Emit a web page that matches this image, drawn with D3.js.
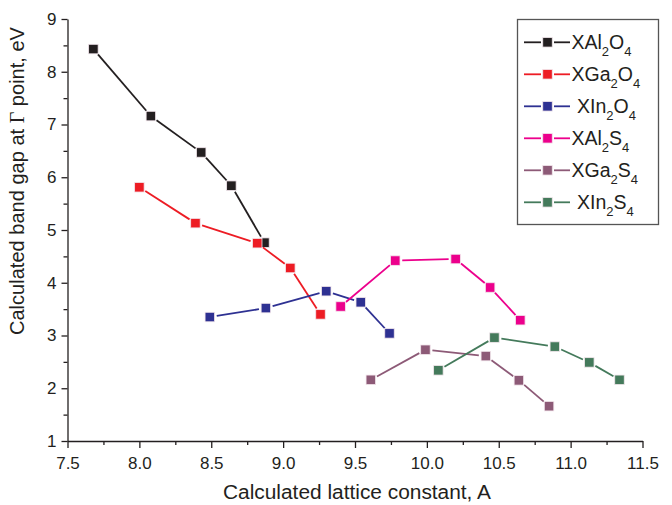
<!DOCTYPE html>
<html>
<head>
<meta charset="utf-8">
<script src="https://cdn.jsdelivr.net/npm/d3@7/dist/d3.min.js"></script>
<style>
  html, body { margin: 0; padding: 0; background: #fff; }
  svg { display: block; font-family: "Liberation Sans", Arial, sans-serif; }
</style>
</head>
<body>
<svg id="chart" width="672" height="505"></svg>
<script>
// Band gap at the Gamma point vs. lattice constant for spinel families
const seriesNames = ["XAl2O4", "XGa2O4", "XIn2O4", "XAl2S4", "XGa2S4", "XIn2S4"];
const seriesColors = ["#231f20", "#ed1c24", "#2e3192", "#ec008c", "#8d5a77", "#447a5b"];

const latticeAl2O4 = [7.68, 8.08, 8.43, 8.64, 8.87];
const gapAl2O4     = [8.43, 7.16, 6.47, 5.84, 4.76];

const latticeGa2O4 = [8.00, 8.39, 8.82, 9.05, 9.26];
const gapGa2O4     = [5.81, 5.13, 4.75, 4.28, 3.40];

const latticeIn2O4 = [8.49, 8.88, 9.30, 9.54, 9.74];
const gapIn2O4     = [3.35, 3.52, 3.84, 3.63, 3.04];

const latticeAl2S4 = [9.40, 9.78, 10.20, 10.44, 10.65];
const gapAl2S4     = [3.55, 4.42, 4.45, 3.91, 3.29];

const latticeGa2S4 = [9.61, 9.99, 10.41, 10.64, 10.85];
const gapGa2S4     = [2.16, 2.73, 2.61, 2.15, 1.66];

const latticeIn2S4 = [10.08, 10.47, 10.89, 11.13, 11.34];
const gapIn2S4     = [2.34, 2.96, 2.79, 2.49, 2.16];

const xTicks = [7.5, 8.0, 8.5, 9.0, 9.5, 10.0, 10.5, 11.0, 11.5];
const yTicks = [1, 2, 3, 4, 5, 6, 7, 8, 9];

const seriesX = [latticeAl2O4, latticeGa2O4, latticeIn2O4, latticeAl2S4, latticeGa2S4, latticeIn2S4];
const seriesY = [gapAl2O4, gapGa2O4, gapIn2O4, gapAl2S4, gapGa2S4, gapIn2S4];

const svg = d3.select("#chart");
const x = d3.scaleLinear().domain([7.5, 11.5]).range([67.5, 642.5]);
const y = d3.scaleLinear().domain([1, 9]).range([441, 19]);

const axisColor = "#231f20";
const tickFont = 17;

// minor ticks
const xMinor = d3.range(7.75, 11.5, 0.5);
const yMinor = d3.range(1.5, 9, 1);
svg.append("g").attr("transform", "translate(0,441)")
  .call(d3.axisBottom(x).tickValues(xMinor).tickSize(4).tickSizeOuter(0).tickFormat(""))
  .call(g => g.select(".domain").remove());
svg.append("g").attr("transform", "translate(67.5,0)")
  .call(d3.axisLeft(y).tickValues(yMinor).tickSize(4).tickSizeOuter(0).tickFormat(""))
  .call(g => g.select(".domain").remove());

// major axes
svg.append("g").attr("transform", "translate(0,441)")
  .call(d3.axisBottom(x).tickValues(xTicks).tickSize(7).tickSizeOuter(0).tickPadding(9).tickFormat(d3.format(".1f")));
svg.append("g").attr("transform", "translate(67.5,0)")
  .call(d3.axisLeft(y).tickValues(yTicks).tickSize(6).tickSizeOuter(0).tickPadding(5).tickFormat(d3.format("d")));

svg.selectAll(".tick line, .domain").attr("stroke", axisColor).attr("stroke-width", 1.3);
svg.selectAll(".tick text").attr("fill", axisColor).attr("font-size", tickFont)
  .attr("font-family", "Liberation Sans, Arial, sans-serif");

// axis titles
svg.append("text")
  .attr("x", 357).attr("y", 499)
  .attr("text-anchor", "middle").attr("font-size", 20).attr("fill", axisColor)
  .attr("textLength", 268).attr("lengthAdjust", "spacingAndGlyphs")
  .text("Calculated lattice constant, A");

const yTitle = svg.append("text")
  .attr("transform", "translate(24,181) rotate(-90)")
  .attr("text-anchor", "middle").attr("font-size", 20).attr("fill", axisColor)
  .attr("textLength", 308).attr("lengthAdjust", "spacingAndGlyphs");
yTitle.append("tspan").text("Calculated band gap at ");
yTitle.append("tspan").attr("font-family", "Liberation Serif, Times New Roman, serif").text("Γ");
yTitle.append("tspan").text(" point, eV");

// series: segments leave a small gap before each marker
const gap = 7;
const markerSize = 9.5;
seriesNames.forEach((name, i) => {
  const pts = seriesX[i].map((v, k) => [x(v), y(seriesY[i][k])]);
  const g = svg.append("g").attr("class", "series");
  for (let k = 0; k < pts.length - 1; k++) {
    const [x1, y1] = pts[k], [x2, y2] = pts[k + 1];
    const len = Math.hypot(x2 - x1, y2 - y1);
    const ux = (x2 - x1) / len, uy = (y2 - y1) / len;
    g.append("line")
      .attr("x1", x1 + ux * gap).attr("y1", y1 + uy * gap)
      .attr("x2", x2 - ux * gap).attr("y2", y2 - uy * gap)
      .attr("stroke", seriesColors[i]).attr("stroke-width", 1.8);
  }
  g.selectAll("rect").data(pts).join("rect")
    .attr("x", d => d[0] - markerSize / 2).attr("y", d => d[1] - markerSize / 2)
    .attr("width", markerSize).attr("height", markerSize)
    .attr("fill", seriesColors[i]).attr("stroke", "#f2e6ec").attr("stroke-width", 0.8);
});

// legend
const legend = svg.append("g");
legend.append("rect").attr("x", 517.5).attr("y", 19.5).attr("width", 141).attr("height", 205)
  .attr("fill", "#fff").attr("stroke", "#555").attr("stroke-width", 1.3);

function formulaParts(name) {
  // split a formula into base text and digit subscripts
  return name.match(/[A-Za-z]+|\d+/g).map(s => ({ s, sub: /^\d+$/.test(s) }));
}

seriesNames.forEach((name, i) => {
  const cy = 42.3 + i * 32;
  const row = legend.append("g");
  row.append("line").attr("x1", 524).attr("x2", 541).attr("y1", cy).attr("y2", cy)
    .attr("stroke", seriesColors[i]).attr("stroke-width", 1.8);
  row.append("line").attr("x1", 554).attr("x2", 570).attr("y1", cy).attr("y2", cy)
    .attr("stroke", seriesColors[i]).attr("stroke-width", 1.8);
  row.append("rect").attr("x", 547.5 - markerSize / 2).attr("y", cy - markerSize / 2)
    .attr("width", markerSize).attr("height", markerSize)
    .attr("fill", seriesColors[i]).attr("stroke", "#f2e6ec").attr("stroke-width", 0.8);
  const isIn = name.indexOf("In") >= 0;
  const t = row.append("text").attr("x", isIn ? 577 : 571.5).attr("y", cy + 6.5)
    .attr("font-size", 19.5).attr("fill", axisColor);
  let shift = 0;
  formulaParts(name).forEach(p => {
    const target = p.sub ? 7 : 0;
    t.append("tspan")
      .attr("font-size", p.sub ? 13 : null)
      .attr("dy", target - shift)
      .text(p.s);
    shift = target;
  });
});
</script>
</body>
</html>
